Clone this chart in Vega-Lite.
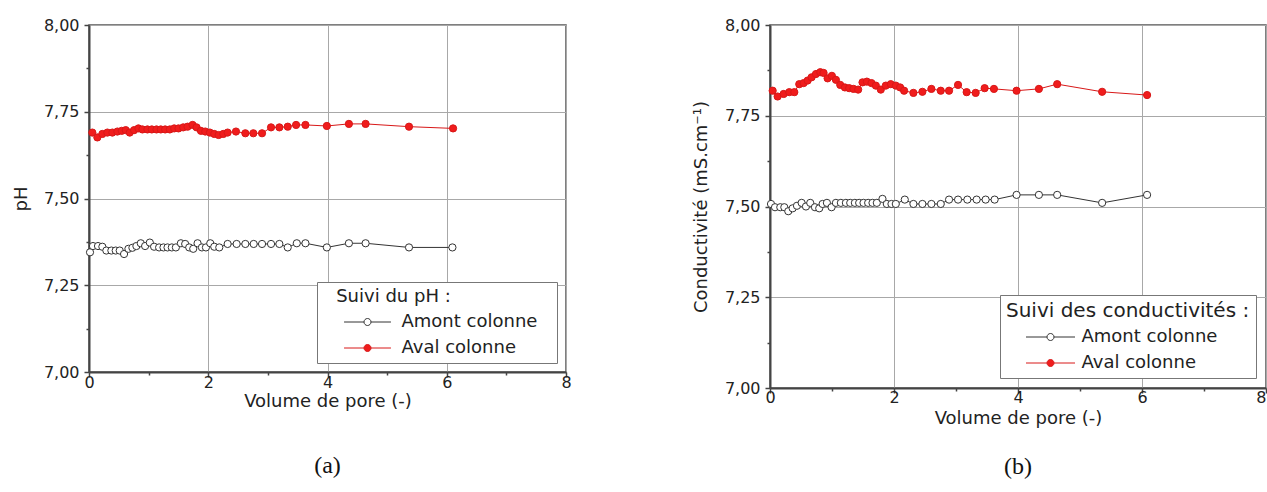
{
  "$schema": "https://vega.github.io/schema/vega-lite/v6.json",
  "padding": {"left": 11, "top": 16, "right": 2, "bottom": 4},
  "spacing": 119,
  "background": "white",
  "config": {
    "font": "DejaVu Sans",
    "view": {"stroke": "#555", "strokeWidth": 1.5},
    "axis": {
      "labelFont": "DejaVu Sans", "labelFontSize": 16, "labelColor": "#222", "labelFlush": false,
      "titleFont": "DejaVu Sans", "titleFontSize": 18, "titleFontWeight": "normal", "titleColor": "#222",
      "domainColor": "#444", "domainWidth": 2, "tickColor": "#444", "tickWidth": 1.5,
      "gridColor": "#a8a8a8", "gridWidth": 1
    },
    "legend": {
      "labelFont": "DejaVu Sans", "labelFontSize": 18, "labelColor": "#222", "labelLimit": 300,
      "titleFont": "DejaVu Sans", "titleFontSize": 18, "titleFontWeight": "normal", "titleColor": "#222", "titleLimit": 400
    },
    "title": {"font": "Liberation Serif", "fontSize": 24, "fontWeight": "normal", "color": "#111", "orient": "bottom", "frame": "group"}
  },
  "resolve": {"scale": {"stroke": "independent", "fill": "independent"}, "legend": {"stroke": "independent", "fill": "independent"}},
  "datasets": {
    "ph": [
      {"x": 0.017, "y": 7.345, "s": "Amont colonne"}, {"x": 0.067, "y": 7.363, "s": "Amont colonne"}, {"x": 0.151, "y": 7.363, "s": "Amont colonne"}, {"x": 0.224, "y": 7.361, "s": "Amont colonne"}, {"x": 0.291, "y": 7.35, "s": "Amont colonne"}, {"x": 0.375, "y": 7.35, "s": "Amont colonne"}, {"x": 0.448, "y": 7.35, "s": "Amont colonne"}, {"x": 0.515, "y": 7.35, "s": "Amont colonne"}, {"x": 0.588, "y": 7.34, "s": "Amont colonne"}, {"x": 0.661, "y": 7.355, "s": "Amont colonne"}, {"x": 0.728, "y": 7.358, "s": "Amont colonne"}, {"x": 0.795, "y": 7.363, "s": "Amont colonne"}, {"x": 0.868, "y": 7.371, "s": "Amont colonne"}, {"x": 0.941, "y": 7.363, "s": "Amont colonne"}, {"x": 1.02, "y": 7.373, "s": "Amont colonne"}, {"x": 1.092, "y": 7.361, "s": "Amont colonne"}, {"x": 1.176, "y": 7.359, "s": "Amont colonne"}, {"x": 1.249, "y": 7.359, "s": "Amont colonne"}, {"x": 1.317, "y": 7.359, "s": "Amont colonne"}, {"x": 1.389, "y": 7.359, "s": "Amont colonne"}, {"x": 1.457, "y": 7.359, "s": "Amont colonne"}, {"x": 1.541, "y": 7.371, "s": "Amont colonne"}, {"x": 1.613, "y": 7.369, "s": "Amont colonne"}, {"x": 1.681, "y": 7.359, "s": "Amont colonne"}, {"x": 1.748, "y": 7.355, "s": "Amont colonne"}, {"x": 1.821, "y": 7.371, "s": "Amont colonne"}, {"x": 1.894, "y": 7.359, "s": "Amont colonne"}, {"x": 1.961, "y": 7.359, "s": "Amont colonne"}, {"x": 2.034, "y": 7.371, "s": "Amont colonne"}, {"x": 2.101, "y": 7.361, "s": "Amont colonne"}, {"x": 2.185, "y": 7.359, "s": "Amont colonne"}, {"x": 2.325, "y": 7.369, "s": "Amont colonne"}, {"x": 2.476, "y": 7.369, "s": "Amont colonne"}, {"x": 2.622, "y": 7.369, "s": "Amont colonne"}, {"x": 2.762, "y": 7.369, "s": "Amont colonne"}, {"x": 2.902, "y": 7.369, "s": "Amont colonne"}, {"x": 3.053, "y": 7.369, "s": "Amont colonne"}, {"x": 3.193, "y": 7.369, "s": "Amont colonne"}, {"x": 3.333, "y": 7.359, "s": "Amont colonne"}, {"x": 3.485, "y": 7.371, "s": "Amont colonne"}, {"x": 3.63, "y": 7.371, "s": "Amont colonne"}, {"x": 3.989, "y": 7.359, "s": "Amont colonne"}, {"x": 4.359, "y": 7.371, "s": "Amont colonne"}, {"x": 4.639, "y": 7.371, "s": "Amont colonne"}, {"x": 5.367, "y": 7.359, "s": "Amont colonne"}, {"x": 6.095, "y": 7.359, "s": "Amont colonne"},
      {"x": 0.056, "y": 7.69, "s": "Aval colonne"}, {"x": 0.14, "y": 7.676, "s": "Aval colonne"}, {"x": 0.224, "y": 7.686, "s": "Aval colonne"}, {"x": 0.308, "y": 7.69, "s": "Aval colonne"}, {"x": 0.392, "y": 7.69, "s": "Aval colonne"}, {"x": 0.476, "y": 7.693, "s": "Aval colonne"}, {"x": 0.549, "y": 7.695, "s": "Aval colonne"}, {"x": 0.616, "y": 7.697, "s": "Aval colonne"}, {"x": 0.683, "y": 7.69, "s": "Aval colonne"}, {"x": 0.756, "y": 7.697, "s": "Aval colonne"}, {"x": 0.829, "y": 7.702, "s": "Aval colonne"}, {"x": 0.896, "y": 7.699, "s": "Aval colonne"}, {"x": 0.98, "y": 7.699, "s": "Aval colonne"}, {"x": 1.053, "y": 7.699, "s": "Aval colonne"}, {"x": 1.132, "y": 7.699, "s": "Aval colonne"}, {"x": 1.204, "y": 7.699, "s": "Aval colonne"}, {"x": 1.277, "y": 7.699, "s": "Aval colonne"}, {"x": 1.356, "y": 7.699, "s": "Aval colonne"}, {"x": 1.429, "y": 7.702, "s": "Aval colonne"}, {"x": 1.501, "y": 7.702, "s": "Aval colonne"}, {"x": 1.58, "y": 7.705, "s": "Aval colonne"}, {"x": 1.653, "y": 7.707, "s": "Aval colonne"}, {"x": 1.737, "y": 7.712, "s": "Aval colonne"}, {"x": 1.804, "y": 7.705, "s": "Aval colonne"}, {"x": 1.877, "y": 7.695, "s": "Aval colonne"}, {"x": 1.95, "y": 7.693, "s": "Aval colonne"}, {"x": 2.028, "y": 7.69, "s": "Aval colonne"}, {"x": 2.101, "y": 7.686, "s": "Aval colonne"}, {"x": 2.174, "y": 7.683, "s": "Aval colonne"}, {"x": 2.252, "y": 7.686, "s": "Aval colonne"}, {"x": 2.325, "y": 7.69, "s": "Aval colonne"}, {"x": 2.465, "y": 7.693, "s": "Aval colonne"}, {"x": 2.622, "y": 7.688, "s": "Aval colonne"}, {"x": 2.756, "y": 7.688, "s": "Aval colonne"}, {"x": 2.902, "y": 7.688, "s": "Aval colonne"}, {"x": 3.053, "y": 7.705, "s": "Aval colonne"}, {"x": 3.193, "y": 7.705, "s": "Aval colonne"}, {"x": 3.333, "y": 7.707, "s": "Aval colonne"}, {"x": 3.473, "y": 7.712, "s": "Aval colonne"}, {"x": 3.63, "y": 7.712, "s": "Aval colonne"}, {"x": 3.989, "y": 7.709, "s": "Aval colonne"}, {"x": 4.359, "y": 7.715, "s": "Aval colonne"}, {"x": 4.639, "y": 7.715, "s": "Aval colonne"}, {"x": 5.367, "y": 7.707, "s": "Aval colonne"}, {"x": 6.106, "y": 7.702, "s": "Aval colonne"}
    ],
    "cond": [
      {"x": 0.016, "y": 7.507, "s": "Amont colonne"}, {"x": 0.081, "y": 7.498, "s": "Amont colonne"}, {"x": 0.166, "y": 7.498, "s": "Amont colonne"}, {"x": 0.231, "y": 7.498, "s": "Amont colonne"}, {"x": 0.295, "y": 7.487, "s": "Amont colonne"}, {"x": 0.365, "y": 7.495, "s": "Amont colonne"}, {"x": 0.435, "y": 7.502, "s": "Amont colonne"}, {"x": 0.51, "y": 7.51, "s": "Amont colonne"}, {"x": 0.58, "y": 7.5, "s": "Amont colonne"}, {"x": 0.649, "y": 7.51, "s": "Amont colonne"}, {"x": 0.725, "y": 7.498, "s": "Amont colonne"}, {"x": 0.794, "y": 7.495, "s": "Amont colonne"}, {"x": 0.848, "y": 7.507, "s": "Amont colonne"}, {"x": 0.918, "y": 7.51, "s": "Amont colonne"}, {"x": 0.993, "y": 7.498, "s": "Amont colonne"}, {"x": 1.063, "y": 7.51, "s": "Amont colonne"}, {"x": 1.143, "y": 7.51, "s": "Amont colonne"}, {"x": 1.224, "y": 7.51, "s": "Amont colonne"}, {"x": 1.294, "y": 7.51, "s": "Amont colonne"}, {"x": 1.369, "y": 7.51, "s": "Amont colonne"}, {"x": 1.438, "y": 7.51, "s": "Amont colonne"}, {"x": 1.508, "y": 7.51, "s": "Amont colonne"}, {"x": 1.583, "y": 7.51, "s": "Amont colonne"}, {"x": 1.653, "y": 7.51, "s": "Amont colonne"}, {"x": 1.723, "y": 7.51, "s": "Amont colonne"}, {"x": 1.814, "y": 7.521, "s": "Amont colonne"}, {"x": 1.884, "y": 7.507, "s": "Amont colonne"}, {"x": 1.959, "y": 7.507, "s": "Amont colonne"}, {"x": 2.029, "y": 7.507, "s": "Amont colonne"}, {"x": 2.174, "y": 7.519, "s": "Amont colonne"}, {"x": 2.313, "y": 7.507, "s": "Amont colonne"}, {"x": 2.458, "y": 7.507, "s": "Amont colonne"}, {"x": 2.603, "y": 7.507, "s": "Amont colonne"}, {"x": 2.754, "y": 7.507, "s": "Amont colonne"}, {"x": 2.888, "y": 7.519, "s": "Amont colonne"}, {"x": 3.033, "y": 7.519, "s": "Amont colonne"}, {"x": 3.183, "y": 7.519, "s": "Amont colonne"}, {"x": 3.333, "y": 7.519, "s": "Amont colonne"}, {"x": 3.478, "y": 7.519, "s": "Amont colonne"}, {"x": 3.623, "y": 7.519, "s": "Amont colonne"}, {"x": 3.977, "y": 7.532, "s": "Amont colonne"}, {"x": 4.337, "y": 7.532, "s": "Amont colonne"}, {"x": 4.632, "y": 7.532, "s": "Amont colonne"}, {"x": 5.357, "y": 7.51, "s": "Amont colonne"}, {"x": 6.082, "y": 7.532, "s": "Amont colonne"},
      {"x": 0.043, "y": 7.819, "s": "Aval colonne"}, {"x": 0.123, "y": 7.803, "s": "Aval colonne"}, {"x": 0.22, "y": 7.81, "s": "Aval colonne"}, {"x": 0.311, "y": 7.815, "s": "Aval colonne"}, {"x": 0.392, "y": 7.815, "s": "Aval colonne"}, {"x": 0.472, "y": 7.837, "s": "Aval colonne"}, {"x": 0.542, "y": 7.84, "s": "Aval colonne"}, {"x": 0.607, "y": 7.847, "s": "Aval colonne"}, {"x": 0.671, "y": 7.856, "s": "Aval colonne"}, {"x": 0.741, "y": 7.865, "s": "Aval colonne"}, {"x": 0.811, "y": 7.87, "s": "Aval colonne"}, {"x": 0.864, "y": 7.868, "s": "Aval colonne"}, {"x": 0.929, "y": 7.853, "s": "Aval colonne"}, {"x": 0.998, "y": 7.86, "s": "Aval colonne"}, {"x": 1.063, "y": 7.849, "s": "Aval colonne"}, {"x": 1.133, "y": 7.835, "s": "Aval colonne"}, {"x": 1.208, "y": 7.828, "s": "Aval colonne"}, {"x": 1.277, "y": 7.826, "s": "Aval colonne"}, {"x": 1.347, "y": 7.824, "s": "Aval colonne"}, {"x": 1.422, "y": 7.822, "s": "Aval colonne"}, {"x": 1.492, "y": 7.842, "s": "Aval colonne"}, {"x": 1.562, "y": 7.844, "s": "Aval colonne"}, {"x": 1.637, "y": 7.84, "s": "Aval colonne"}, {"x": 1.707, "y": 7.833, "s": "Aval colonne"}, {"x": 1.787, "y": 7.822, "s": "Aval colonne"}, {"x": 1.868, "y": 7.833, "s": "Aval colonne"}, {"x": 1.948, "y": 7.837, "s": "Aval colonne"}, {"x": 2.029, "y": 7.833, "s": "Aval colonne"}, {"x": 2.099, "y": 7.828, "s": "Aval colonne"}, {"x": 2.163, "y": 7.819, "s": "Aval colonne"}, {"x": 2.313, "y": 7.813, "s": "Aval colonne"}, {"x": 2.458, "y": 7.816, "s": "Aval colonne"}, {"x": 2.603, "y": 7.824, "s": "Aval colonne"}, {"x": 2.754, "y": 7.819, "s": "Aval colonne"}, {"x": 2.888, "y": 7.819, "s": "Aval colonne"}, {"x": 3.033, "y": 7.835, "s": "Aval colonne"}, {"x": 3.172, "y": 7.815, "s": "Aval colonne"}, {"x": 3.317, "y": 7.813, "s": "Aval colonne"}, {"x": 3.462, "y": 7.826, "s": "Aval colonne"}, {"x": 3.612, "y": 7.824, "s": "Aval colonne"}, {"x": 3.977, "y": 7.819, "s": "Aval colonne"}, {"x": 4.337, "y": 7.824, "s": "Aval colonne"}, {"x": 4.632, "y": 7.837, "s": "Aval colonne"}, {"x": 5.357, "y": 7.816, "s": "Aval colonne"}, {"x": 6.082, "y": 7.807, "s": "Aval colonne"}
    ]
  },
  "hconcat": [
    {
      "width": 477,
      "height": 347,
      "data": {"name": "ph"},
      "title": {"text": "(a)", "offset": 44},
      "encoding": {
        "x": {"field": "x", "type": "quantitative", "scale": {"domain": [0, 8], "nice": false},
          "axis": {"title": "Volume de pore (-)", "values": [0, 1, 2, 3, 4, 5, 6, 7, 8],
            "labelExpr": "datum.value % 2 == 0 ? datum.label : ''",
            "tickSize": {"condition": {"test": "datum.value % 2 != 0", "value": 3}, "value": 5},
            "gridOpacity": {"condition": {"test": "datum.value % 2 != 0", "value": 0}, "value": 1},
            "labelPadding": -3, "titlePadding": 2}},
        "y": {"field": "y", "type": "quantitative", "scale": {"domain": [7, 8], "nice": false, "zero": false},
          "axis": {"title": "pH", "values": [7, 7.125, 7.25, 7.375, 7.5, 7.625, 7.75, 7.875, 8],
            "labelExpr": "abs(datum.value*4 - round(datum.value*4)) < 0.01 ? replace(format(datum.value, '.2f'), '.', ',') : ''",
            "tickSize": {"condition": {"test": "abs(datum.value*4 - round(datum.value*4)) > 0.01", "value": 3}, "value": 5},
            "gridOpacity": {"condition": {"test": "abs(datum.value*4 - round(datum.value*4)) > 0.01", "value": 0}, "value": 1},
            "labelPadding": 5, "titlePadding": 13}}
      },
      "layer": [
        {
          "mark": {"type": "line", "strokeWidth": 1},
          "encoding": {"stroke": {"field": "s", "type": "nominal", "scale": {"domain": ["Amont colonne", "Aval colonne"], "range": ["#333333", "#d81818"]}}}
        },
        {
          "mark": {"type": "point", "shape": "circle", "size": 52, "strokeWidth": 1, "opacity": 1},
          "encoding": {
            "stroke": {"field": "s", "type": "nominal", "scale": {"domain": ["Amont colonne", "Aval colonne"], "range": ["#333333", "#d81818"]},
              "legend": {"title": "\u2800Suivi du pH :", "orient": "bottom-right", "offset": 9, "padding": 6, "fillColor": "white", "strokeColor": "#777",
                "symbolType": "M-6.7,0L-1,0M1,0L6.7,0M1,0A1,1,0,1,1,-1,0A1,1,0,1,1,1,0Z", "symbolSize": 49, "symbolStrokeWidth": 1,
                "symbolOffset": 35.5, "labelOffset": 25, "rowPadding": 8, "titlePadding": 7,
                "labelExpr": "datum.label + '\u2800'"}},
            "fill": {"field": "s", "type": "nominal", "scale": {"domain": ["Amont colonne", "Aval colonne"], "range": ["#ffffff", "#f01c1c"]},
              "legend": {"title": "\u2800Suivi du pH :", "orient": "bottom-right", "offset": 9, "padding": 6, "fillColor": "white", "strokeColor": "#777",
                "symbolType": "M-6.7,0L-1,0M1,0L6.7,0M1,0A1,1,0,1,1,-1,0A1,1,0,1,1,1,0Z", "symbolSize": 49, "symbolStrokeWidth": 1,
                "symbolOffset": 35.5, "labelOffset": 25, "rowPadding": 8, "titlePadding": 7,
                "labelExpr": "datum.label + '\u2800'"}}
          }
        }
      ]
    },
    {
      "width": 496,
      "height": 363,
      "data": {"name": "cond"},
      "title": {"text": "(b)", "offset": 28},
      "encoding": {
        "x": {"field": "x", "type": "quantitative", "scale": {"domain": [0, 8], "nice": false},
          "axis": {"title": "Volume de pore (-)", "values": [0, 1, 2, 3, 4, 5, 6, 7, 8],
            "labelExpr": "datum.value % 2 == 0 ? datum.label : ''",
            "labelAlign": {"condition": {"test": "datum.value == 8", "value": "right"}, "value": "center"},
            "tickSize": {"condition": {"test": "datum.value % 2 != 0", "value": 3}, "value": 5},
            "gridOpacity": {"condition": {"test": "datum.value % 2 != 0", "value": 0}, "value": 1},
            "labelPadding": -4, "titlePadding": 4}},
        "y": {"field": "y", "type": "quantitative", "scale": {"domain": [7, 8], "nice": false, "zero": false},
          "axis": {"title": "Conductivité (mS.cm⁻¹)", "values": [7, 7.125, 7.25, 7.375, 7.5, 7.625, 7.75, 7.875, 8],
            "labelExpr": "abs(datum.value*4 - round(datum.value*4)) < 0.01 ? replace(format(datum.value, '.2f'), '.', ',') : ''",
            "tickSize": {"condition": {"test": "abs(datum.value*4 - round(datum.value*4)) > 0.01", "value": 3}, "value": 5},
            "gridOpacity": {"condition": {"test": "abs(datum.value*4 - round(datum.value*4)) > 0.01", "value": 0}, "value": 1},
            "labelPadding": 5, "titlePadding": 14}}
      },
      "layer": [
        {
          "mark": {"type": "line", "strokeWidth": 1},
          "encoding": {"stroke": {"field": "s", "type": "nominal", "scale": {"domain": ["Amont colonne", "Aval colonne"], "range": ["#333333", "#d81818"]}}}
        },
        {
          "mark": {"type": "point", "shape": "circle", "size": 52, "strokeWidth": 1, "opacity": 1},
          "encoding": {
            "stroke": {"field": "s", "type": "nominal", "scale": {"domain": ["Amont colonne", "Aval colonne"], "range": ["#333333", "#d81818"]},
              "legend": {"title": "Suivi des conductivités :", "orient": "bottom-right", "offset": 10, "padding": 6, "fillColor": "white", "strokeColor": "#777",
                "titleFontSize": 20,
                "symbolType": "M-7,0L-1,0M1,0L7,0M1,0A1,1,0,1,1,-1,0A1,1,0,1,1,1,0Z", "symbolSize": 49, "symbolStrokeWidth": 1,
                "symbolOffset": 35.5, "labelOffset": 22, "rowPadding": 8, "titlePadding": 7}},
            "fill": {"field": "s", "type": "nominal", "scale": {"domain": ["Amont colonne", "Aval colonne"], "range": ["#ffffff", "#f01c1c"]},
              "legend": {"title": "Suivi des conductivités :", "orient": "bottom-right", "offset": 10, "padding": 6, "fillColor": "white", "strokeColor": "#777",
                "titleFontSize": 20,
                "symbolType": "M-7,0L-1,0M1,0L7,0M1,0A1,1,0,1,1,-1,0A1,1,0,1,1,1,0Z", "symbolSize": 49, "symbolStrokeWidth": 1,
                "symbolOffset": 35.5, "labelOffset": 22, "rowPadding": 8, "titlePadding": 7}}
          }
        }
      ]
    }
  ]
}
